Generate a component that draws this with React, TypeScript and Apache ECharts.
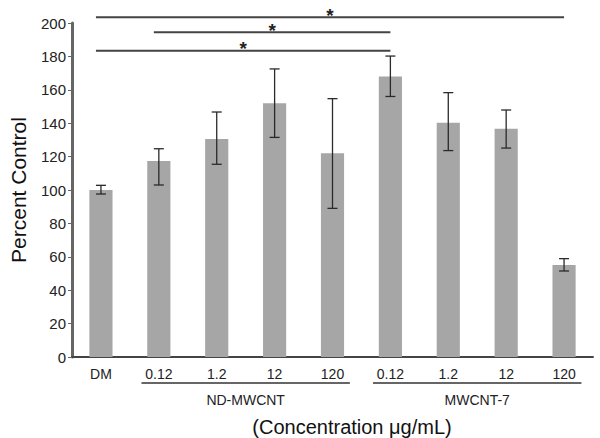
import React, { useEffect, useRef } from "react";
import * as echarts from "echarts";

const categories = ["DM", "0.12", "1.2", "12", "120", "0.12", "1.2", "12", "120"];
const values = [100, 117.4, 130.5, 151.9, 122, 168, 140.3, 136.7, 55.1];
const errLow = [97.6, 103, 115.4, 131.5, 89, 156, 123.6, 125.1, 51.5];
const errHigh = [102.8, 124.7, 146.7, 172.5, 154.7, 180.2, 158.3, 147.9, 58.9];
// significance brackets: [fromIndex, toIndex, yValue]
const sigLines = [
  [0, 8, 203.4],
  [1, 5, 194.4],
  [0, 5, 183.4],
];
// groups: [fromIndex, toIndex, label]
const groups: [number, number, string][] = [
  [1, 4, "ND-MWCNT"],
  [5, 8, "MWCNT-7"],
];
const yTicks = { min: 0, max: 200, interval: 20 };

const FONT = "Liberation Sans, Arial, Helvetica, sans-serif";

export default function App() {
  const ref = useRef<HTMLDivElement>(null);
  useEffect(() => {
    if (!ref.current) return;
    const chart = echarts.init(ref.current, null, { renderer: "svg" });
    chart.setOption({
      animation: false,
      backgroundColor: "#ffffff",
      grid: { left: 64, right: 7, top: 23, bottom: 81 },
      xAxis: {
        type: "category",
        data: categories,
        axisLine: { lineStyle: { color: "#444", width: 2 } },
        axisTick: { show: false },
        axisLabel: { color: "#222", fontSize: 14, fontFamily: FONT, margin: 10 },
      },
      yAxis: {
        type: "value",
        min: yTicks.min,
        max: yTicks.max,
        interval: yTicks.interval,
        name: "Percent Control",
        nameLocation: "middle",
        nameGap: 43,
        nameTextStyle: { color: "#111", fontSize: 21, fontFamily: FONT },
        axisLine: { show: true, lineStyle: { color: "#666", width: 3 } },
        axisTick: { show: true, length: 4, lineStyle: { color: "#666", width: 1 } },
        axisLabel: { color: "#222", fontSize: 15, fontFamily: FONT, margin: 6 },
        splitLine: { show: false },
      },
      graphic: [
        {
          type: "text",
          x: 352,
          y: 427,
          style: {
            text: "(Concentration μg/mL)",
            font: `20px ${FONT}`,
            fill: "#111",
            textAlign: "center",
            textVerticalAlign: "middle",
          },
        },
      ],
      series: [
        {
          type: "bar",
          data: values,
          barWidth: "40%",
          itemStyle: { color: "#a6a6a6" },
        },
        {
          type: "custom",
          data: categories.map((_, i) => [i, errLow[i], errHigh[i]]),
          renderItem: (params: any, api: any) => {
            const i = api.value(0);
            const lo = api.coord([i, api.value(1)]);
            const hi = api.coord([i, api.value(2)]);
            const cap = 5;
            const style = { stroke: "#2a2a2a", lineWidth: 1.3 };
            return {
              type: "group",
              children: [
                { type: "line", shape: { x1: hi[0], y1: hi[1], x2: lo[0], y2: lo[1] }, style },
                { type: "line", shape: { x1: hi[0] - cap, y1: hi[1], x2: hi[0] + cap, y2: hi[1] }, style },
                { type: "line", shape: { x1: lo[0] - cap, y1: lo[1], x2: lo[0] + cap, y2: lo[1] }, style },
              ],
            };
          },
          z: 5,
        },
        {
          type: "custom",
          data: sigLines,
          renderItem: (params: any, api: any) => {
            const a = api.coord([api.value(0), api.value(2)]);
            const b = api.coord([api.value(1), api.value(2)]);
            const x1 = a[0] - 5;
            const x2 = b[0];
            const mid = (x1 + x2) / 2;
            return {
              type: "group",
              children: [
                { type: "line", shape: { x1, y1: a[1], x2, y2: b[1] }, style: { stroke: "#444", lineWidth: 2 } },
                {
                  type: "text",
                  style: {
                    text: "*",
                    x: mid,
                    y: a[1] - 2,
                    font: `bold 19px ${FONT}`,
                    fill: "#222",
                    textAlign: "center",
                    textVerticalAlign: "middle",
                  },
                },
              ],
            };
          },
          z: 5,
        },
        {
          type: "custom",
          data: groups.map((g) => [g[0], g[1], g[2]]),
          renderItem: (params: any, api: any) => {
            const a = api.coord([api.value(0), 0]);
            const b = api.coord([api.value(1), 0]);
            const band = api.size([1, 0])[0];
            const x1 = a[0] - band * 0.3;
            const x2 = b[0] + band * 0.3;
            const y = a[1] + 26;
            const label = groups[params.dataIndex][2];
            return {
              type: "group",
              children: [
                { type: "line", shape: { x1, y1: y, x2, y2: y }, style: { stroke: "#333", lineWidth: 1.5 } },
                {
                  type: "text",
                  style: {
                    text: label,
                    x: (x1 + x2) / 2,
                    y: y + 17,
                    font: `14px ${FONT}`,
                    fill: "#222",
                    textAlign: "center",
                    textVerticalAlign: "middle",
                  },
                },
              ],
            };
          },
          z: 5,
        },
      ],
    });
    return () => chart.dispose();
  }, []);
  return <div ref={ref} style={{ width: 600, height: 438, position: "absolute", left: 0, top: 0 }} />;
}
